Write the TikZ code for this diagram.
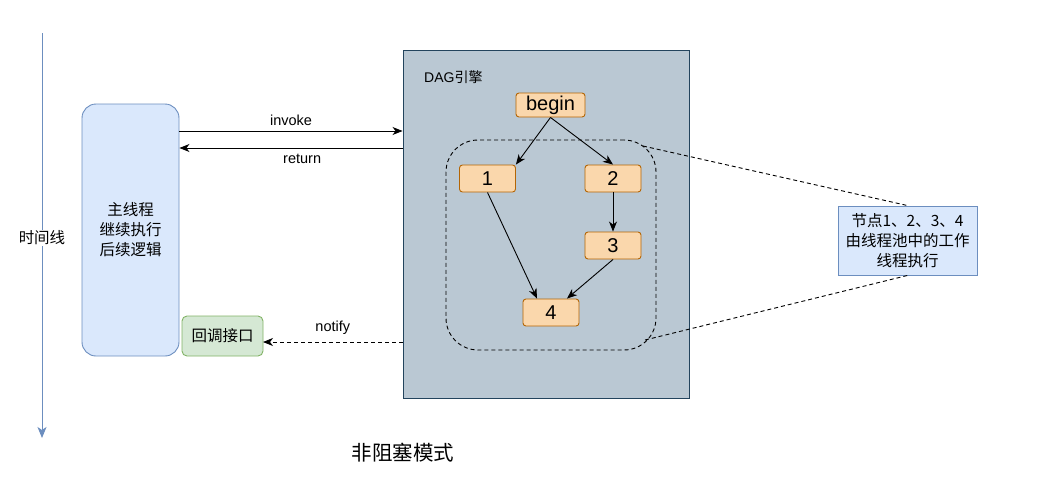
\documentclass[tikz,border=0pt]{standalone}
\usepackage{fontspec}
\setmainfont{Liberation Sans}
\newfontfamily\cjk{Noto Sans CJK SC}
\usetikzlibrary{arrows.meta}
\definecolor{bluefill}{HTML}{DAE8FC}
\definecolor{bluedraw}{HTML}{6C8EBF}
\definecolor{greenfill}{HTML}{D5E8D4}
\definecolor{greendraw}{HTML}{82B366}
\definecolor{dagfill}{HTML}{BAC8D3}
\definecolor{dagdraw}{HTML}{23445D}
\definecolor{orfill}{HTML}{FAD7AC}
\definecolor{ordraw}{HTML}{B46504}
\begin{document}
\begin{tikzpicture}[x=1pt,y=-1pt,
  tip/.style={-{Stealth[length=10pt,width=8pt,inset=3pt]}},
  dagnode/.style={rectangle,rounded corners=3pt,fill=orfill,draw=ordraw,line width=0.9pt,inner sep=0pt,font=\fontsize{20}{22}\selectfont},
  lbl/.style={font=\fontsize{14.5}{16}\selectfont},
  cjktext/.style={font=\cjk\fontsize{15.5}{20}\selectfont,align=center},
  dsh/.style={dash pattern=on 4pt off 3pt}
]
\useasboundingbox (0,0) rectangle (1058,491);
% timeline
\coordinate (tlA) at (42,33);
\coordinate (tlB) at (42,438);
\draw[bluedraw,line width=1pt,-{Stealth[length=11pt,width=9pt,inset=3pt]}] (tlA) -- (tlB);
\node[cjktext,fill=white,inner sep=1pt] (tl) at (42,238) {时间线};
% main thread
\node[rectangle,rounded corners=14pt,fill=bluefill,draw=bluedraw,line width=0.9pt,minimum width=97pt,minimum height=252pt,cjktext] (main) at (130.5,230) {主线程\\继续执行\\后续逻辑};
% callback
\node[rectangle,rounded corners=5pt,fill=greenfill,draw=greendraw,line width=0.9pt,minimum width=81pt,minimum height=40pt,cjktext] (cb) at (222.5,336) {回调接口};
\coordinate (cbIn) at (263,342);
% DAG box
\node[rectangle,fill=dagfill,draw=dagdraw,line width=0.9pt,minimum width=286pt,minimum height=348pt,inner sep=0pt] (dag) at (546,224) {};
\node[anchor=west,font=\fontsize{14}{16}\selectfont,inner sep=0pt] (daglbl) at (424,77) {DAG{\cjk 引擎}};
% group
\node[rectangle,rounded corners=32pt,draw,dsh,line width=0.9pt,minimum width=210pt,minimum height=210pt,inner sep=0pt] (grp) at (551,245) {};
% dag nodes
\node[dagnode,minimum width=69pt,minimum height=24pt] (begin) at (550.5,105) {begin};
\node[dagnode,minimum width=56pt,minimum height=27pt] (n1) at (487.5,178.5) {1};
\node[dagnode,minimum width=56pt,minimum height=27pt] (n2) at (613,178.5) {2};
\node[dagnode,minimum width=56pt,minimum height=27pt] (n3) at (613,245.5) {3};
\node[dagnode,minimum width=56pt,minimum height=27pt] (n4) at (551,312.5) {4};
\draw[tip,line width=0.9pt] (begin.south) -- (n1.north east) ;
\draw[tip,line width=0.9pt] (begin.south) -- (n2.north);
\draw[tip,line width=0.9pt] (n2.south) -- (n3.north);
\draw[tip,line width=0.9pt] (n1.south) -- ([xshift=-14pt]n4.north);
\draw[tip,line width=0.9pt] (n3.south) -- ([xshift=16pt]n4.north);
% invoke / return / notify
\draw[tip,line width=0.9pt] (main.east |- 0,131) -- (dag.west |- 0,131) node[midway,above=2pt,lbl] (inv) {invoke};
\draw[tip,line width=0.9pt] (dag.west |- 0,148) -- (main.east |- 0,148) node[pos=0.45,below=2pt,lbl] (ret) {return};
\draw[tip,dsh,line width=0.9pt] (dag.west |- cbIn) -- (cbIn) node[midway,above=4pt,lbl] (ntf) {notify};
% note
\node[rectangle,fill=bluefill,draw=bluedraw,line width=0.9pt,minimum width=139pt,minimum height=69pt,inner sep=0pt,font=\cjk\fontsize{15.5}{20}\selectfont,align=center] (note) at (907.5,240.5) {节点1、2、3、4\\由线程池中的工作\\线程执行};
\coordinate (gTR) at (643,146);
\coordinate (gBR) at (645,340);
\draw[dsh,line width=0.9pt] (gTR) -- (note.north);
\draw[dsh,line width=0.9pt] (gBR) -- (note.south);
% title
\node[font=\cjk\fontsize{20.5}{24}\selectfont] (title) at (403,453) {非阻塞模式};
\end{tikzpicture}
\end{document}
